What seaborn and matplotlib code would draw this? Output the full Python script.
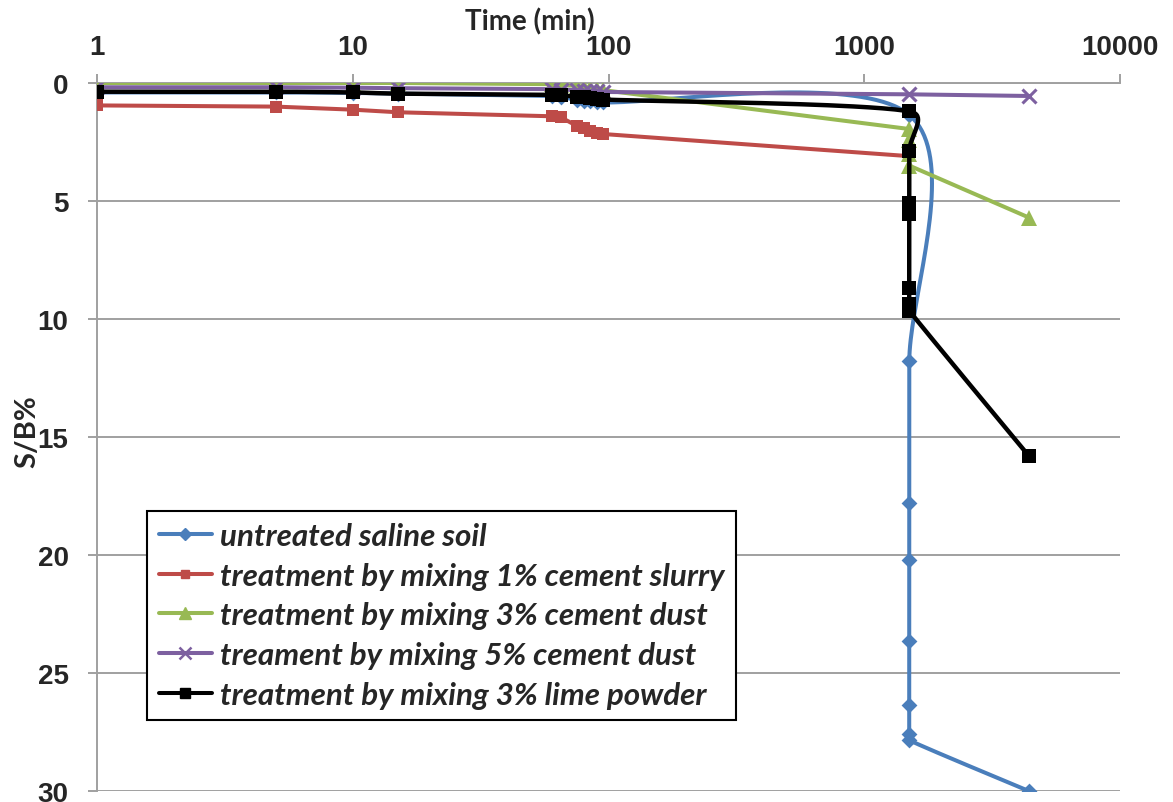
import numpy as np
import pandas as pd
import seaborn as sns
import matplotlib
matplotlib.use("Agg")
import matplotlib.pyplot as plt
from matplotlib.lines import Line2D

# ---------------- data ----------------
labels = [
    "untreated saline soil",
    "treatment by mixing 1% cement slurry",
    "treatment by mixing 3% cement dust",
    "treament by mixing 5% cement dust",
    "treatment by mixing 3% lime powder",
]

t_untreated = [1, 5, 10, 15, 60, 65, 75, 80, 85, 90, 95,
               1500, 1500, 1500, 1500, 1500, 1500, 1500, 1500, 4400]
sb_untreated = [0.40, 0.40, 0.42, 0.45, 0.55, 0.60, 0.70, 0.75, 0.78, 0.80, 0.82,
                1.35, 11.8, 17.8, 20.2, 23.65, 26.35, 27.6, 27.85, 30.0]

t_slurry1 = [1, 5, 10, 15, 60, 65, 75, 80, 85, 90, 95, 1500]
sb_slurry1 = [0.95, 1.00, 1.13, 1.24, 1.41, 1.45, 1.81, 1.92, 2.02, 2.10, 2.16, 3.10]

t_dust3 = [1, 5, 10, 15, 60, 65, 75, 80, 85, 90, 95, 1500, 1500, 1500, 1500, 4400]
sb_dust3 = [0.0, 0.0, 0.0, 0.0, 0.05, 0.08, 0.12, 0.16, 0.20, 0.25, 0.30,
            1.95, 2.40, 3.00, 3.50, 5.70]

t_dust5 = [1, 5, 10, 15, 60, 65, 75, 80, 85, 90, 95, 1500, 4400]
sb_dust5 = [0.18, 0.18, 0.20, 0.22, 0.26, 0.28, 0.30, 0.32, 0.34, 0.36, 0.38, 0.48, 0.55]

t_lime3 = [1, 5, 10, 15, 60, 65, 75, 80, 85, 90, 95,
           1500, 1500, 1500, 1500, 1500, 1500, 1500, 4400]
sb_lime3 = [0.37, 0.37, 0.40, 0.45, 0.50, 0.52, 0.58, 0.60, 0.63, 0.66, 0.70,
            1.20, 2.90, 5.10, 5.55, 8.70, 9.37, 9.65, 15.8]

x_ticks = [1, 10, 100, 1000, 10000]
x_ticklabels = ["1", "10", "100", "1000", "10000"]
y_ticks = [0, 5, 10, 15, 20, 25, 30]

colors = ["#4A7EBB", "#BE4B48", "#98B954", "#7D60A0", "#000000"]

# ---------------- figure ----------------
sns.set_theme(style="white")
plt.rcParams["font.family"] = ["Liberation Sans", "DejaVu Sans"]

fig = plt.figure(figsize=(11.73, 8.03), dpi=100)
L, R, T, B = 97, 1120, 84, 792
W, H = 1173, 803
ax = fig.add_axes([L / W, 1 - B / H, (R - L) / W, (B - T) / H])
ax.set_xscale("log")
ax.set_xlim(1, 10000)
ax.set_ylim(30, 0)

grid_c = "#A0A0A0"
for s in ["bottom", "right"]:
    ax.spines[s].set_visible(False)
for s in ["top", "left"]:
    ax.spines[s].set_color(grid_c)
    ax.spines[s].set_linewidth(1.4)

ax.set_yticks(y_ticks)
ax.yaxis.grid(True, color=grid_c, linewidth=1.4)
ax.set_axisbelow(True)
ax.xaxis.tick_top()
ax.set_xticks(x_ticks)
ax.set_xticklabels(x_ticklabels)
ax.xaxis.set_minor_locator(matplotlib.ticker.NullLocator())
ax.tick_params(axis="x", which="major", direction="out", length=6.5, width=1.4,
               color=grid_c, labelsize=20, pad=10, top=True, bottom=False)
ax.tick_params(axis="y", which="major", direction="out", length=6.5, width=1.4,
               color=grid_c, labelsize=20, pad=14, left=True)
for lab in ax.get_xticklabels() + ax.get_yticklabels():
    lab.set_fontweight("bold")


def excel_smooth(ax, xs, ys, n=40):
    pts = ax.transData.transform(np.column_stack([xs, ys]).astype(float))
    m = len(pts)
    out = [pts[0]]
    for i in range(m - 1):
        p1, p2 = pts[i], pts[i + 1]
        p0 = pts[i - 1] if i > 0 else p1
        p3 = pts[i + 2] if i + 2 < m else p2
        d12 = np.hypot(*(p2 - p1))
        d02 = np.hypot(*(p2 - p0))
        d13 = np.hypot(*(p3 - p1))
        if d02 / 6 < d12 / 2:
            f1 = 1 / 6
        else:
            f1 = d12 / (2 * d02) if d02 > 0 else 0.0
        if d13 / 6 < d12 / 2:
            f2 = 1 / 6
        else:
            f2 = d12 / (2 * d13) if d13 > 0 else 0.0
        c1 = p1 + (p2 - p0) * f1
        c2 = p2 - (p3 - p1) * f2
        t = np.linspace(0, 1, n)[1:, None]
        seg = ((1 - t) ** 3) * p1 + 3 * ((1 - t) ** 2) * t * c1 + 3 * (1 - t) * (t ** 2) * c2 + (t ** 3) * p2
        out.extend(seg)
    out = np.array(out)
    d = ax.transData.inverted().transform(out)
    return d[:, 0], d[:, 1]


lw = 2.9
# untreated (smoothed)
sx, sy = excel_smooth(ax, t_untreated, sb_untreated)
ax.plot(sx, sy, color=colors[0], lw=lw, solid_capstyle="round", zorder=3)
sns.scatterplot(x=t_untreated, y=sb_untreated, marker="D", s=65, color=colors[0],
                edgecolor=colors[0], linewidth=0, ax=ax, zorder=3.1, legend=False)

# 1% cement slurry
sns.lineplot(x=t_slurry1, y=sb_slurry1, sort=False, estimator=None, color=colors[1],
             lw=lw, marker="s", markersize=8.5, markeredgewidth=0, ax=ax, zorder=4, legend=False)

# 3% cement dust
sns.lineplot(x=t_dust3, y=sb_dust3, sort=False, estimator=None, color=colors[2],
             lw=lw, marker="^", markersize=11, markeredgewidth=0, ax=ax, zorder=5, legend=False)

# 5% cement dust
sns.lineplot(x=t_dust5, y=sb_dust5, sort=False, estimator=None, color=colors[3],
             lw=lw, marker="x", markersize=10, markeredgewidth=2.2, markeredgecolor=colors[3],
             ax=ax, zorder=6, legend=False)

# 3% lime powder (smoothed)
sx, sy = excel_smooth(ax, t_lime3, sb_lime3)
ax.plot(sx, sy, color=colors[4], lw=lw + 0.3, solid_capstyle="round", zorder=7)
sns.scatterplot(x=t_lime3, y=sb_lime3, marker="s", s=90, color=colors[4],
                edgecolor=colors[4], linewidth=0, ax=ax, zorder=7.1, legend=False)

ax.set_xlabel("")
ax.set_ylabel("")
ax.set_xlim(1, 10000)
ax.set_ylim(30, 0)

# titles
fig.text(530 / W, 1 - 22 / H, "Time (min)", ha="center", va="center",
         fontsize=20, fontweight="bold", family=["Lato", "DejaVu Sans"])
fig.text(27 / W, 1 - 432 / H, "S/B%", ha="center", va="center", rotation=90,
         fontsize=21, fontweight="bold", family=["Lato", "DejaVu Sans"])

# legend
handles = [
    Line2D([], [], color=colors[0], lw=lw, marker="D", markersize=6),
    Line2D([], [], color=colors[1], lw=lw, marker="s", markersize=6),
    Line2D([], [], color=colors[2], lw=lw, marker="^", markersize=9),
    Line2D([], [], color=colors[3], lw=lw, marker="x", markersize=8, markeredgewidth=1.8),
    Line2D([], [], color=colors[4], lw=lw, marker="s", markersize=7),
]
leg = ax.legend(handles, labels, loc="lower left", bbox_to_anchor=(0.049, 0.1),
                borderaxespad=0, frameon=True, fancybox=False, framealpha=1,
                edgecolor="black", handlelength=1.7, handletextpad=0.25,
                labelspacing=0.37, borderpad=0.37,
                prop={"family": ["Lato", "DejaVu Sans"], "weight": "bold",
                      "style": "italic", "size": 22.6})
leg.get_frame().set_linewidth(1.5)
leg.set_zorder(10)

fig.savefig("out.png", dpi=100)
